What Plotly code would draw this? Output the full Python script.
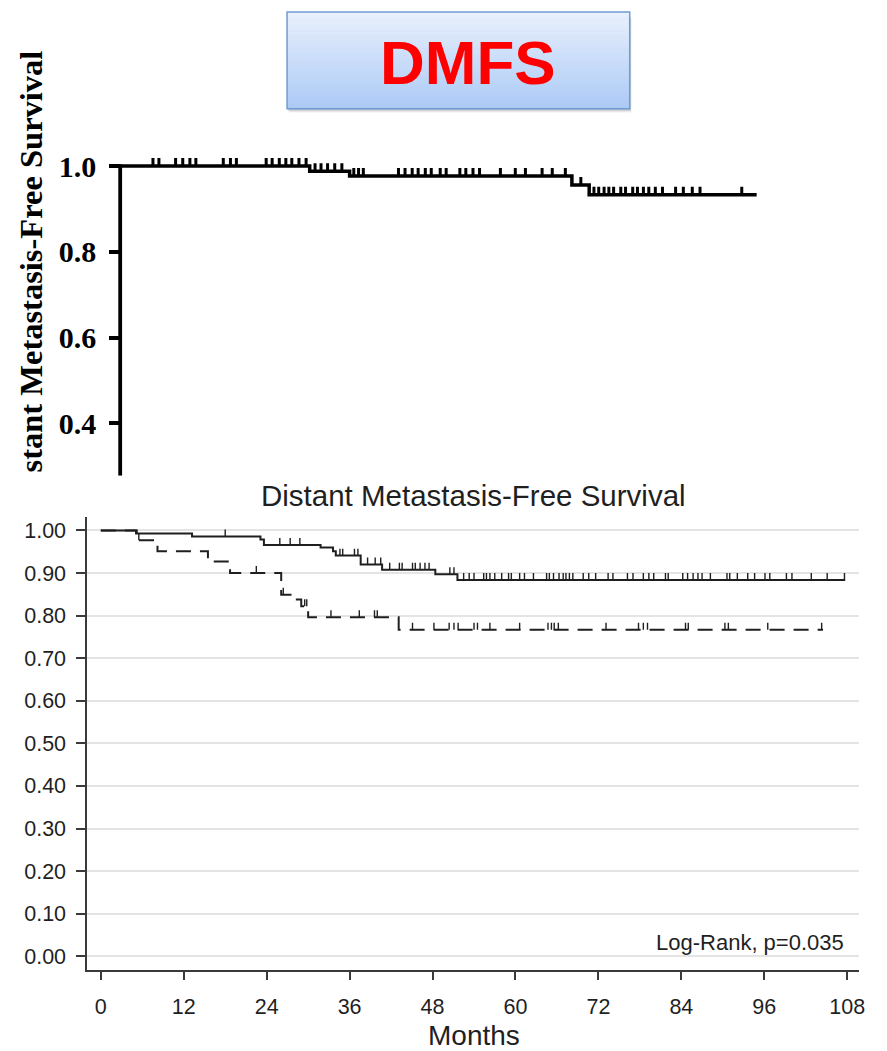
import plotly.graph_objects as go

W, H = 887, 1051

# ---------------- data ----------------
# Top panel: single-group Kaplan-Meier curve (months)
top_step_times = [0, 31.8, 38.5, 75.8, 78.7]
top_step_surv = [1.0, 0.988, 0.977, 0.956, 0.933]
top_end_time = 106.8
top_censor_times = [5.5, 6.5, 9.3, 10.5, 11.7, 12.7, 17.3, 18.5, 19.5, 24.5, 25.5, 26.7,
                    27.8, 28.8, 30.0, 31.2,
                    32.7, 33.7, 34.8, 36.0, 37.2,
                    39.2, 40.0, 40.8, 46.7, 47.8, 49.0, 50.0, 51.2, 52.2, 53.7, 54.7, 57.0,
                    58.0, 59.2, 60.3, 63.8, 66.3, 68.0, 70.8, 72.5, 74.7,
                    77.3,
                    79.5, 80.3, 81.2, 82.0, 82.8, 84.0, 84.8, 86.0, 86.8, 87.8, 88.7, 89.8,
                    91.0, 93.2, 94.5, 96.0, 97.3, 104.3]
top_y_ticks = [0.4, 0.6, 0.8, 1.0]
top_y_labels = ["0.4", "0.6", "0.8", "1.0"]

# Bottom panel: two groups
grpA_step_times = [0, 5.1, 13.2, 23.1, 23.6, 31.8, 33.6, 34.0, 37.6, 40.7, 48.4, 51.6]
grpA_step_surv = [1.0, 0.993, 0.986, 0.979, 0.966, 0.960, 0.951, 0.941, 0.920, 0.908, 0.897, 0.884]
grpA_end_time = 107.7
grpA_censor_times = [18.0, 25.9, 27.4, 28.8, 34.6, 35.0, 36.7, 37.2, 38.6, 39.7, 40.5, 41.8,
                     43.2, 43.6, 45.1, 45.5, 46.2, 46.9, 47.5, 50.5, 51.1, 52.5, 53.3, 54.0,
                     55.4, 55.8, 56.3, 57.0, 58.0, 59.0, 59.4, 60.6, 61.3, 62.6, 64.5, 64.9,
                     65.5, 66.3, 66.9, 67.3, 67.8, 68.3, 69.8, 70.6, 71.6, 73.4, 74.1, 76.2,
                     77.0, 78.5, 79.3, 80.0, 81.7, 82.1, 84.2, 84.9, 85.7, 86.4, 87.0, 88.2,
                     90.6, 91.0, 92.1, 93.6, 94.6, 96.1, 96.8, 99.2, 100.0, 102.8, 105.1, 107.6]

grpB_step_times = [0, 5.2, 8.2, 15.5, 18.7, 26.1, 27.6, 29.0, 30.0, 43.1]
grpB_step_surv = [1.0, 0.977, 0.951, 0.927, 0.900, 0.849, 0.838, 0.822, 0.796, 0.767]
grpB_end_time = 104.5
grpB_censor_times = [5.5, 22.5, 26.4, 29.5, 29.8, 33.3, 37.4, 39.6, 40.0, 45.1, 48.2, 50.4,
                     51.1, 51.7, 54.0, 54.5, 56.3, 60.6, 64.7, 65.2, 65.6, 66.2, 73.1, 77.8,
                     78.5, 79.1, 84.6, 85.0, 90.3, 90.8, 96.5, 104.3]

x_ticks = [0, 12, 24, 36, 48, 60, 72, 84, 96, 108]
y_ticks = [0.0, 0.1, 0.2, 0.3, 0.4, 0.5, 0.6, 0.7, 0.8, 0.9, 1.0]
y_tick_labels = ["0.00", "0.10", "0.20", "0.30", "0.40", "0.50", "0.60", "0.70", "0.80", "0.90", "1.00"]

title_text = "Distant Metastasis-Free Survival"
pvalue_text = "Log-Rank, p=0.035"
x_title = "Months"
banner_text = "DMFS"
top_ylabel_visible = "stant Metastasis-Free Survival"


# ---------------- helpers ----------------
def step_xy(times, surv, end):
    return list(times) + [end], list(surv) + [surv[-1]]


def surv_at(t, times, surv):
    s = surv[0]
    for ti, si in zip(times, surv):
        if ti <= t:
            s = si
    return s


def censor_xy(ctimes, times, surv, h):
    xs, ys = [], []
    for c in ctimes:
        s = surv_at(c, times, surv)
        xs += [c, c, None]
        ys += [s, s + h, None]
    return xs, ys


def px_x(px):
    return px / W


def px_y(py):
    return 1 - py / H


# axis geometry (pixels)
TOP_PX_PER_UNIT = 430.0
TOP_Y1_PX = 163.5
top_y_range = [1.0 - (474 - TOP_Y1_PX) / TOP_PX_PER_UNIT, 1.0 - (150 - TOP_Y1_PX) / TOP_PX_PER_UNIT]
BOT_PX_PER_UNIT = 427.0
BOT_Y0_PX = 956.0
bot_y_range = [(BOT_Y0_PX - 970) / BOT_PX_PER_UNIT, (BOT_Y0_PX - 515) / BOT_PX_PER_UNIT]
X0_PX, X108_PX = 101.5, 853.0
pxm = (X108_PX - X0_PX) / 108.0
bot_x_range = [(88 - X0_PX) / pxm, (865 - X0_PX) / pxm]

SANS = "Liberation Sans, Arial, sans-serif"
SERIF = "Liberation Serif, Times New Roman, serif"
TXT = "#1f1f1f"

fig = go.Figure()

# top curve
tx, ty = step_xy(top_step_times, top_step_surv, top_end_time)
fig.add_trace(go.Scatter(x=tx, y=ty, mode="lines", line=dict(color="black", width=3.5, shape="hv"),
                         xaxis="x", yaxis="y", showlegend=False, hoverinfo="skip"))
cx, cy = censor_xy(top_censor_times, top_step_times, top_step_surv, 8 / TOP_PX_PER_UNIT)
fig.add_trace(go.Scatter(x=cx, y=cy, mode="lines", line=dict(color="black", width=3),
                         xaxis="x", yaxis="y", showlegend=False, hoverinfo="skip"))

# bottom curves
ax, ay = step_xy(grpA_step_times, grpA_step_surv, grpA_end_time)
fig.add_trace(go.Scatter(x=ax, y=ay, mode="lines", line=dict(color=TXT, width=2, shape="hv"),
                         xaxis="x2", yaxis="y2", showlegend=False, hoverinfo="skip"))
cx, cy = censor_xy(grpA_censor_times, grpA_step_times, grpA_step_surv, 7 / BOT_PX_PER_UNIT)
fig.add_trace(go.Scatter(x=cx, y=cy, mode="lines", line=dict(color=TXT, width=1.4),
                         xaxis="x2", yaxis="y2", showlegend=False, hoverinfo="skip"))

bx, by = step_xy(grpB_step_times, grpB_step_surv, grpB_end_time)
fig.add_trace(go.Scatter(x=bx, y=by, mode="lines",
                         line=dict(color=TXT, width=2, shape="hv", dash="15px,9px"),
                         xaxis="x2", yaxis="y2", showlegend=False, hoverinfo="skip"))
cx, cy = censor_xy(grpB_censor_times, grpB_step_times, grpB_step_surv, 7 / BOT_PX_PER_UNIT)
fig.add_trace(go.Scatter(x=cx, y=cy, mode="lines", line=dict(color=TXT, width=1.4),
                         xaxis="x2", yaxis="y2", showlegend=False, hoverinfo="skip"))

shapes = []
# banner shadow
for i, op in enumerate([0.10, 0.07, 0.04]):
    d = i + 2
    shapes.append(dict(type="rect", xref="paper", yref="paper", layer="below",
                       x0=px_x(289 + d * 0.5), x1=px_x(634 + d * 0.5), y0=px_y(106 + d), y1=px_y(12 + d),
                       fillcolor=f"rgba(0,0,0,{op})", line=dict(width=0)))
# banner gradient
N = 40
top_c = (232, 240, 253)
bot_c = (172, 202, 246)
y_top, y_bot = 9.0, 106.0
for i in range(N):
    f = i / (N - 1)
    c = tuple(int(round(top_c[k] + (bot_c[k] - top_c[k]) * f)) for k in range(3))
    ya = y_top + (y_bot - y_top) * i / N
    yb = y_top + (y_bot - y_top) * (i + 1) / N
    shapes.append(dict(type="rect", xref="paper", yref="paper", layer="below",
                       x0=px_x(289), x1=px_x(634), y0=px_y(yb + 0.5), y1=px_y(ya),
                       fillcolor=f"rgb{c}", line=dict(width=0)))
shapes.append(dict(type="rect", xref="paper", yref="paper", layer="below",
                   x0=px_x(289), x1=px_x(634), y0=px_y(106), y1=px_y(9),
                   fillcolor="rgba(0,0,0,0)", line=dict(color="#6f9bd3", width=1.5)))
# top y-axis line (starts at 1.0)
shapes.append(dict(type="line", xref="paper", yref="y", x0=px_x(121), x1=px_x(121),
                   y0=top_y_range[0], y1=1.0 + 1.75 / TOP_PX_PER_UNIT,
                   line=dict(color="black", width=3.8)))

annotations = [
    dict(text=f"<b>{banner_text}</b>", x=px_x(471), y=px_y(60), xref="paper", yref="paper",
         showarrow=False, xanchor="center", yanchor="middle",
         font=dict(family=SANS, size=62, color="#ff0000")),
    dict(text=f"<b>{top_ylabel_visible}</b>", x=px_x(31), y=px_y(473), xref="paper", yref="paper",
         showarrow=False, xanchor="center", yanchor="bottom", textangle=-90,
         font=dict(family=SERIF, size=32.5, color="black")),
    dict(text=title_text, x=px_x(477), y=px_y(494), xref="paper", yref="paper",
         showarrow=False, xanchor="center", yanchor="middle",
         font=dict(family=SANS, size=29.5, color=TXT)),
    dict(text=pvalue_text, x=px_x(852), y=px_y(942), xref="paper", yref="paper",
         showarrow=False, xanchor="right", yanchor="middle",
         font=dict(family=SANS, size=22, color=TXT)),
    dict(text=x_title, x=px_x(477), y=px_y(1035), xref="paper", yref="paper",
         showarrow=False, xanchor="center", yanchor="middle",
         font=dict(family=SANS, size=28, color=TXT)),
]

fig.update_layout(
    width=W, height=H,
    margin=dict(l=0, r=0, t=0, b=0),
    paper_bgcolor="white", plot_bgcolor="rgba(0,0,0,0)",
    showlegend=False,
    xaxis=dict(domain=[px_x(103), px_x(781)], range=[-3, 110], visible=False, anchor="y"),
    yaxis=dict(domain=[px_y(474), px_y(150)], range=top_y_range, anchor="free", position=px_x(121),
               showline=False, showgrid=False, zeroline=False,
               ticks="outside", ticklen=11, tickwidth=3.8, tickcolor="black",
               tickvals=top_y_ticks, ticktext=top_y_labels, ticklabelstandoff=7,
               tickfont=dict(family=SERIF, size=30, color="black", weight="bold")),
    xaxis2=dict(domain=[px_x(88), px_x(865)], range=bot_x_range, anchor="y2",
                showline=True, linecolor="#3a3a3a", linewidth=2, showgrid=False, zeroline=False,
                ticks="outside", ticklen=8, tickwidth=2, tickcolor="#3a3a3a",
                tickvals=x_ticks, ticktext=[str(v) for v in x_ticks], ticklabelstandoff=8,
                tickfont=dict(family=SANS, size=21.5, color=TXT)),
    yaxis2=dict(domain=[px_y(970), px_y(515)], range=bot_y_range, anchor="x2",
                showline=True, linecolor="#3a3a3a", linewidth=2, zeroline=False,
                showgrid=True, gridcolor="#e4e4e4", gridwidth=2,
                ticks="outside", ticklen=9, tickwidth=2, tickcolor="#3a3a3a",
                tickvals=y_ticks, ticktext=y_tick_labels, ticklabelstandoff=6,
                tickfont=dict(family=SANS, size=21.5, color=TXT)),
    shapes=shapes,
    annotations=annotations,
)

fig.write_html("out.html")
